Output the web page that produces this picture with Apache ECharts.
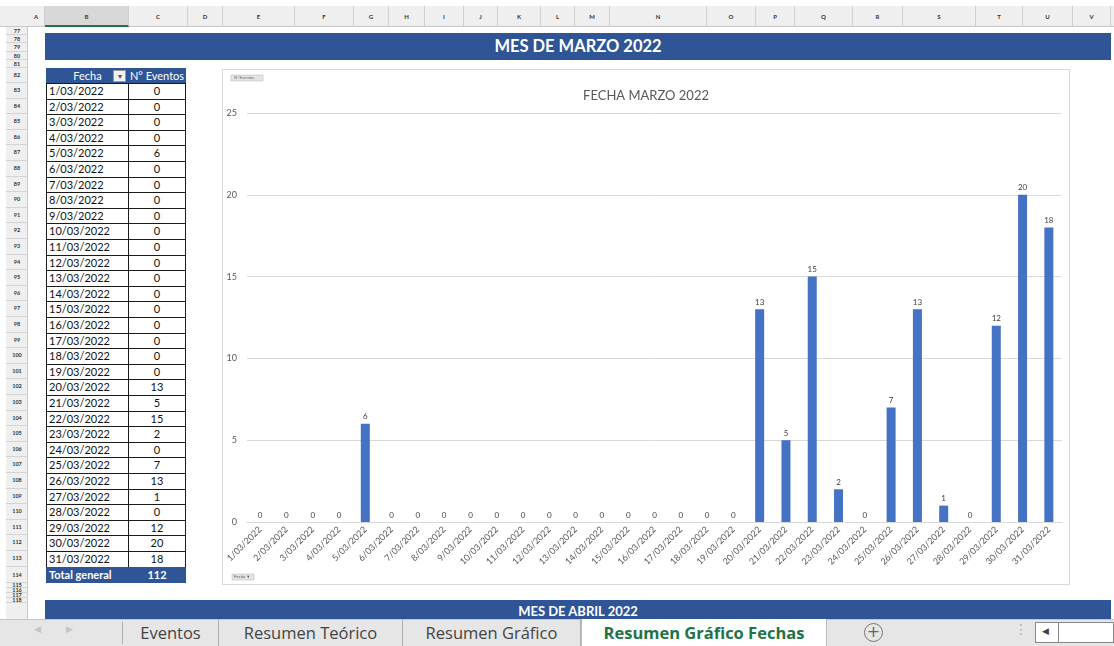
<!DOCTYPE html>
<html>
<head>
<meta charset="utf-8">
<script src="https://cdn.jsdelivr.net/npm/echarts@6/dist/echarts.min.js"></script>
<style>
  html, body { margin: 0; padding: 0; background: #fff; }
  body { width: 1114px; height: 646px; position: relative; overflow: hidden; font-family: Lato, "Liberation Sans", sans-serif; }
  .abs { position: absolute; box-sizing: border-box; }
  #colbar { left: 0; top: 6px; width: 1114px; height: 21px; background: #efefef; border-bottom: 1px solid #c8c8c8; }
  .colh { position: absolute; top: 6px; height: 21px; line-height: 21px; font-size: 6px; font-weight: bold; color: #333; text-align: center; border-right: 1px solid #cfcfcf; box-sizing: border-box; }
  #rowbar { left: 6px; top: 27px; width: 22px; height: 592px; background: #efefef; border-right: 1px solid #c8c8c8; }
  .rowh { position: absolute; left: 6px; width: 22px; font-size: 5.5px; font-weight: bold; color: #333; text-align: center; }
  .banner { background: #2F5597; color: #fff; font-weight: bold; text-align: center; }
  .cell { position: absolute; box-sizing: border-box; font-size: 11px; color: #111; border: 1px solid #1a1a1a; background: #fff; white-space: nowrap; overflow: hidden; }
  .head { background: #2F5597; color: #fff; border-color: #2F5597; }
  #chartwrap { left: 222px; top: 69px; width: 848px; height: 516px; border: 1px solid #d9d9d9; background: #fff; }
  #chart { position: absolute; left: 0; top: 0; width: 846px; height: 514px; }
  #tabs { left: 0; top: 619px; width: 1114px; height: 27px; background: #e6e6e6; border-top: 1px solid #c6c6c6; }
  .tab { position: absolute; top: 619px; height: 27px; line-height: 27px; font-family: "Open Sans", sans-serif; font-size: 16.5px; color: #444; text-align: center; box-sizing: border-box; }
</style>
</head>
<body>
<div id="colbar" class="abs"></div>
<div id="rowbar" class="abs"></div>
<div class="abs banner" style="left:45px;top:33px;width:1066px;height:27px;line-height:27px;font-size:16.5px;" id="bannerTop"></div>
<div class="abs banner" style="left:45px;top:600px;width:1066px;height:19px;line-height:23px;font-size:13px;overflow:hidden;" id="bannerNext"></div>
<div id="chartwrap" class="abs"><div id="chart"></div></div>
<div id="tabs" class="abs"></div>

<script>
// Sheet content: daily event counts for March 2022
const tituloMes = 'MES DE MARZO 2022';
const tituloSiguiente = 'MES DE ABRIL 2022';
const tituloGrafico = 'FECHA MARZO 2022';
const encabezados = ['Fecha', 'N° Eventos'];
const fechas = [
  '1/03/2022', '2/03/2022', '3/03/2022', '4/03/2022', '5/03/2022', '6/03/2022', '7/03/2022',
  '8/03/2022', '9/03/2022', '10/03/2022', '11/03/2022', '12/03/2022', '13/03/2022', '14/03/2022',
  '15/03/2022', '16/03/2022', '17/03/2022', '18/03/2022', '19/03/2022', '20/03/2022', '21/03/2022',
  '22/03/2022', '23/03/2022', '24/03/2022', '25/03/2022', '26/03/2022', '27/03/2022', '28/03/2022',
  '29/03/2022', '30/03/2022', '31/03/2022'
];
const eventos = [0, 0, 0, 0, 6, 0, 0, 0, 0, 0, 0, 0, 0, 0, 0, 0, 0, 0, 0, 13, 5, 15, 2, 0, 7, 13, 1, 0, 12, 20, 18];
const etiquetaTotal = 'Total general';
const columnas = ['A', 'B', 'C', 'D', 'E', 'F', 'G', 'H', 'I', 'J', 'K', 'L', 'M', 'N', 'O', 'P', 'Q', 'R', 'S', 'T', 'U', 'V'];
const pestanas = ['Eventos', 'Resumen Teórico', 'Resumen Gráfico', 'Resumen Gráfico Fechas'];

// column header strip
const colEdges = [28, 45, 129, 188, 223, 295, 354, 389, 425, 464, 498, 541, 575, 610, 707, 756, 795, 853, 903, 976, 1023, 1073, 1111];
columnas.forEach((c, i) => {
  const d = document.createElement('div');
  d.className = 'colh';
  d.style.left = colEdges[i] + 'px';
  d.style.width = (colEdges[i + 1] - colEdges[i]) + 'px';
  d.textContent = c;
  if (c === 'B') { d.style.background = '#d8d8d8'; d.style.borderBottom = '2px solid #217346'; }
  document.body.appendChild(d);
});

// row number strip
function rowLabel(n, y, h) {
  const d = document.createElement('div');
  d.className = 'rowh';
  d.style.top = y + 'px';
  d.style.height = h + 'px';
  d.style.lineHeight = h + 'px';
  d.style.borderBottom = '1px solid #d4d4d4';
  d.style.boxSizing = 'border-box';
  d.textContent = n;
  document.body.appendChild(d);
}
const rowTop = 68, headH = 15, rowH = 15.6;
[77, 78, 79, 80, 81].forEach((n, i) => rowLabel(n, 27 + i * 8.2, 8.2));
rowLabel(82, rowTop, headH);
fechas.forEach((f, i) => rowLabel(83 + i, rowTop + headH + i * rowH, rowH));
const totTop = rowTop + headH + fechas.length * rowH;
rowLabel(114, totTop, headH + 1);
[115, 116, 117, 118].forEach((n, i) => rowLabel(n, totTop + 16 + i * 5.2, 5.2));

document.getElementById('bannerTop').textContent = tituloMes;
document.getElementById('bannerNext').textContent = tituloSiguiente;

// pivot table
function cell(x, y, w, h, text, cls, align, extra) {
  const d = document.createElement('div');
  d.className = 'cell ' + (cls || '');
  d.style.left = x + 'px'; d.style.top = y + 'px';
  d.style.width = w + 'px'; d.style.height = h + 'px';
  d.style.lineHeight = (h - 2) + 'px';
  d.style.textAlign = align;
  d.style.padding = align === 'left' ? '0 0 0 2px' : (align === 'right' ? '0 2px 0 0' : '0');
  if (extra) Object.assign(d.style, extra);
  d.textContent = text;
  document.body.appendChild(d);
  return d;
}
const xF = 46, wF = 83, xN = 128, wN = 58;
cell(xF, rowTop, wF, headH + 1, encabezados[0], 'head', 'center');
cell(xN, rowTop, wN, headH + 1, encabezados[1], 'head', 'center');
// filter dropdown on the Fecha header
const dd = document.createElement('div');
dd.className = 'abs';
Object.assign(dd.style, { left: '113px', top: '70px', width: '13px', height: '12px', background: '#f2f2f2', border: '1px solid #999', fontSize: '8px', lineHeight: '10px', textAlign: 'center', color: '#555' });
dd.textContent = '▾';
document.body.appendChild(dd);

fechas.forEach((f, i) => {
  const y = rowTop + headH + i * rowH;
  cell(xF, y, wF, rowH + 1, f, '', 'left');
  cell(xN, y, wN, rowH + 1, String(eventos[i]), '', 'center');
});
const total = eventos.reduce((a, b) => a + b, 0);
cell(xF, totTop, wF, headH + 1, etiquetaTotal, 'head', 'left', { fontWeight: 'bold' });
cell(xN, totTop, wN, headH + 1, String(total), 'head', 'center', { fontWeight: 'bold' });

// sheet tabs
function tab(x, w, text, active) {
  const d = document.createElement('div');
  d.className = 'tab';
  d.style.left = x + 'px'; d.style.width = w + 'px';
  d.textContent = text;
  if (active) {
    d.style.background = '#fff';
    d.style.color = '#217346';
    d.style.fontWeight = 'bold';
    d.style.borderLeft = '1px solid #bbb';
    d.style.borderRight = '1px solid #bbb';
  } else {
    d.style.borderRight = '1px solid #b0b0b0';
  }
  document.body.appendChild(d);
}
const tabEdges = [123, 219, 403, 581, 827];
pestanas.forEach((p, i) => tab(tabEdges[i], tabEdges[i + 1] - tabEdges[i], p, i === 3));
const first = document.createElement('div');
first.className = 'abs';
Object.assign(first.style, { left: '122px', top: '622px', width: '1px', height: '22px', background: '#b0b0b0' });
document.body.appendChild(first);
function glyph(x, y, text, style) {
  const d = document.createElement('div');
  d.className = 'abs';
  Object.assign(d.style, { left: x + 'px', top: y + 'px', color: '#aaa', fontFamily: '"DejaVu Sans", sans-serif' }, style || {});
  d.textContent = text;
  document.body.appendChild(d);
}
glyph(34, 624, '◀', { fontSize: '9px', color: '#c4c4c4' });
glyph(66, 624, '▶', { fontSize: '9px', color: '#c4c4c4' });
const plus = document.createElement('div');
plus.className = 'abs';
Object.assign(plus.style, { left: '864px', top: '623px', width: '19px', height: '19px', borderRadius: '50%', border: '1px solid #777', textAlign: 'center', lineHeight: '16px', fontSize: '16px', color: '#666', fontFamily: '"DejaVu Sans", sans-serif' });
plus.textContent = '+';
document.body.appendChild(plus);
glyph(1014, 621, '⋮', { fontSize: '14px', color: '#b0b0b0' });
const scroll = document.createElement('div');
scroll.className = 'abs';
Object.assign(scroll.style, { left: '1035px', top: '622px', width: '79px', height: '21px', background: '#fff', border: '1px solid #888' });
document.body.appendChild(scroll);
const sep = document.createElement('div');
sep.className = 'abs';
Object.assign(sep.style, { left: '1058px', top: '622px', width: '1px', height: '21px', background: '#888' });
document.body.appendChild(sep);
glyph(1042, 626, '◀', { fontSize: '9px', color: '#444' });

// column chart
const chart = echarts.init(document.getElementById('chart'), null, { renderer: 'canvas' });
const gray = '#595959';
chart.setOption({
  animation: false,
  textStyle: { fontFamily: 'Lato, "Liberation Sans", sans-serif' },
  grid: { left: 24, right: 7, top: 43, bottom: 62 },
  xAxis: {
    type: 'category',
    data: fechas,
    axisLine: { lineStyle: { color: '#d9d9d9' } },
    axisTick: { show: false },
    axisLabel: { rotate: 45, interval: 0, fontSize: 9, color: gray, margin: 6 }
  },
  yAxis: {
    type: 'value',
    min: 0, max: 25, interval: 5,
    axisLine: { show: false },
    axisTick: { show: false },
    splitLine: { lineStyle: { color: '#d9d9d9' } },
    axisLabel: { fontSize: 9, color: gray, margin: 10 }
  },
  series: [{
    type: 'bar',
    data: eventos,
    barWidth: 9,
    itemStyle: { color: '#4472C4' },
    label: { show: true, position: 'top', fontSize: 8, color: '#404040', distance: 3 }
  }],
  graphic: [
    { type: 'text', left: 'center', top: 19, style: { text: tituloGrafico, fontSize: 13, fill: gray, fontFamily: 'Lato, sans-serif' } },
    { type: 'rect', shape: { x: 8, y: 5, width: 32, height: 6 }, style: { fill: '#e4e4e4', stroke: '#b5b5b5', lineWidth: 0.5 } },
    { type: 'text', x: 11, y: 6, style: { text: encabezados[1], fontSize: 4, fill: '#666' } },
    { type: 'rect', shape: { x: 9, y: 504, width: 22, height: 6 }, style: { fill: '#e4e4e4', stroke: '#b5b5b5', lineWidth: 0.5 } },
    { type: 'text', x: 11, y: 505, style: { text: encabezados[0] + ' ▼', fontSize: 4, fill: '#555' } }
  ]
});
</script>
</body>
</html>
